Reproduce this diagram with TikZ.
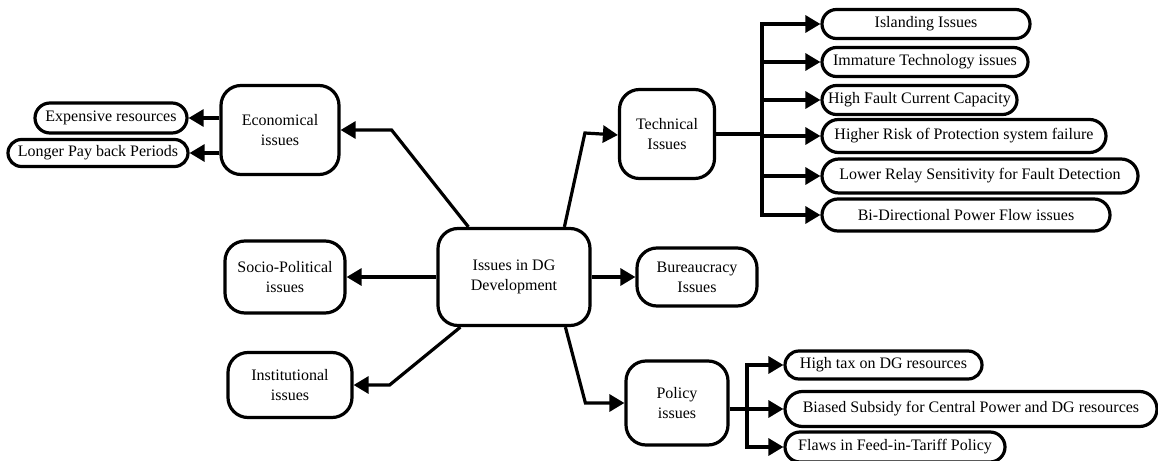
\documentclass[tikz,border=0pt]{standalone}
\usepackage{fontspec}
\setmainfont{Liberation Serif}
\usetikzlibrary{arrows.meta,calc}
\begin{document}
\begin{tikzpicture}[x=1pt,y=-1pt,
  line width=3.2pt,
  every node/.style={font=\fontsize{16}{20}\selectfont},
  mainbox/.style={draw,rounded corners=20pt,align=center,inner sep=0pt},
  leafbox/.style={draw,rounded corners=#1,inner sep=0pt},
  arr/.style={-{Triangle[length=15pt,width=17pt]}}]
\useasboundingbox (0,0) rectangle (1158,460);
% main boxes
\node[mainbox,minimum width=152pt,minimum height=97pt] (c) at (514,277) {Issues in DG\\Development};
\node[mainbox,minimum width=118pt,minimum height=89pt] (eco) at (280,130) {Economical\\issues};
\node[mainbox,minimum width=95pt,minimum height=89pt] (tech) at (667,134) {Technical\\Issues};
\node[mainbox,minimum width=120pt,minimum height=72pt] (socio) at (285,277) {Socio-Political\\issues};
\node[mainbox,minimum width=120pt,minimum height=58pt] (bur) at (697,277) {Bureaucracy\\Issues};
\node[mainbox,minimum width=124pt,minimum height=65pt] (inst) at (290,385) {Institutional\\issues};
\node[mainbox,minimum width=102pt,minimum height=84pt] (pol) at (677,403) {Policy\\issues};
% economical leaves
\node[leafbox=15pt,minimum width=152pt,minimum height=30pt] (e1) at (111,118) {Expensive resources};
\node[leafbox=13.5pt,minimum width=180pt,minimum height=27pt] (e2) at (98,153) {Longer Pay back Periods};
% technical leaves
\node[leafbox=14.5pt,minimum width=208pt,minimum height=29pt] (t1) at (926,24) {Islanding Issues};
\node[leafbox=14.5pt,minimum width=206pt,minimum height=29pt] (t2) at (925,62) {Immature Technology issues};
\node[leafbox=14.5pt,minimum width=195pt,minimum height=29pt] (t3) at (919.5,100) {High Fault Current Capacity};
\node[leafbox=16.5pt,minimum width=284pt,minimum height=33pt] (t4) at (964,136) {Higher Risk of Protection system failure};
\node[leafbox=17pt,minimum width=316pt,minimum height=34pt] (t5) at (980,176) {Lower Relay Sensitivity for Fault Detection};
\node[leafbox=16pt,minimum width=288pt,minimum height=32pt] (t6) at (966,215) {Bi-Directional Power Flow issues};
% policy leaves
\node[leafbox=14pt,minimum width=197pt,minimum height=28pt] (p1) at (883.5,365) {High tax on DG resources};
\node[leafbox=17.5pt,minimum width=372pt,minimum height=35pt] (p2) at (971,409) {Biased Subsidy for Central Power and DG resources};
\node[leafbox=15pt,minimum width=220pt,minimum height=30pt] (p3) at (895,447) {Flaws in Feed-in-Tariff Policy};
% connectors from centre
\draw[arr] ([xshift=32pt]c.north west) -- ($(eco.east)+(51,0)$) -- (eco.east);
\draw[arr] ([xshift=128pt]c.north west) -- ($(tech.west)+(-33,-1)$) -- ([yshift=-1pt]tech.west);
\draw[arr] (c.west) -- (socio.east);
\draw[arr] (c.east) -- (bur.west);
\draw[arr] ([xshift=24pt]c.south west) -- ($(inst.east)+(36,0)$) -- (inst.east);
\draw[arr] ([xshift=129pt]c.south west) -- ($(pol.west)+(-39,0)$) -- (pol.west);
% economical branches
\draw[arr] (eco.west |- e1.east) -- (e1.east);
\draw[arr] (eco.west |- e2.east) -- (e2.east);
% technical branches
\coordinate (tb) at (762,134);
\draw (tech.east) -- (tb);
\draw[line cap=rect] (tb |- t1.west) -- (tb |- t6.west);
\foreach \n in {t1,t2,t3,t4,t5,t6} \draw[arr] (tb |- \n.west) -- (\n.west);
% policy branches
\coordinate (pb) at (747,408);
\draw[arr] (pol.east |- p2.west) -- (p2.west);
\draw[line cap=rect] (pb |- p1.west) -- (pb |- p3.west);
\draw[arr] (pb |- p1.west) -- (p1.west);
\draw[arr] (pb |- p3.west) -- (p3.west);
\end{tikzpicture}
\end{document}
